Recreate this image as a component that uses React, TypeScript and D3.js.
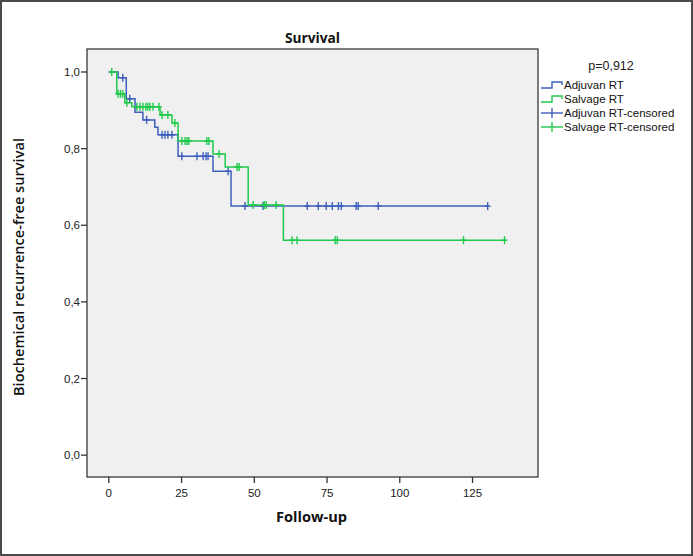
import React from "react";
import * as d3 from "d3";

// Step points: [time, survival]
const adjuvanTimes = [0, 3.2, 6, 9, 11.7, 15.8, 16.9, 23.8, 35.8, 42];
const adjuvanSurv = [1.0, 0.985, 0.93, 0.895, 0.875, 0.856, 0.836, 0.78, 0.741, 0.65];
const adjuvanEnd = 130.2;
const adjuvanCensored = [4.8, 7.2, 13, 18.3, 19.3, 20.3, 21.7, 25.1, 30.3, 32.4, 33.4, 34.1, 41, 46.8, 53, 68.2, 72, 74.7, 76.8, 78.9, 79.9, 85, 85.7, 92.6, 130.2];

const salvageTimes = [0, 2.75, 5.5, 7.9, 17.6, 21.7, 23.8, 35.8, 40, 47.9, 60];
const salvageSurv = [1.0, 0.943, 0.92, 0.909, 0.888, 0.867, 0.82, 0.786, 0.752, 0.653, 0.561];
const salvageEnd = 136;
const salvageCensored = [1, 3.2, 4, 4.8, 6.2, 9.6, 10.7, 11.7, 12.7, 13.4, 14.1, 15.2, 17.2, 18.3, 20.3, 22.7, 25.1, 26.2, 26.9, 27.5, 33.7, 34.4, 37.9, 44.1, 44.8, 49.6, 53.4, 54.1, 57.5, 63, 64.7, 77.8, 78.5, 121.9, 136];

const xTicks = [0, 25, 50, 75, 100, 125];
const yTicks = [0, 0.2, 0.4, 0.6, 0.8, 1.0];
const legendLabels = ["Adjuvan RT", "Salvage RT", "Adjuvan RT-censored", "Salvage RT-censored"];
const pValueText = "p=0,912";

const BLUE = "#3d5fbd";
const GREEN = "#1fc94b";

function survAt(times: number[], surv: number[], t: number) {
  let s = surv[0];
  for (let i = 0; i < times.length; i++) if (times[i] <= t) s = surv[i];
  return s;
}

export default function App() {
  const W = 693, H = 556;
  const L = 87, R = 538, T = 49, B = 477;
  const x = d3.scaleLinear().domain([-7.5, 147.5]).range([L, R]);
  const y = d3.scaleLinear().domain([-0.057, 1.06]).range([B, T]);
  const line = d3.line<[number, number]>().x(d => x(d[0])).y(d => y(d[1])).curve(d3.curveStepAfter);

  const series = [
    { times: adjuvanTimes, surv: adjuvanSurv, end: adjuvanEnd, cens: adjuvanCensored, color: BLUE },
    { times: salvageTimes, surv: salvageSurv, end: salvageEnd, cens: salvageCensored, color: GREEN },
  ];

  const fmt = (v: number) => v.toFixed(1).replace(".", ",");
  const legX = 541;
  const legY = [85, 99, 113, 127];

  return (
    <svg width={W} height={H} style={{ position: "absolute", left: 0, top: 0 }}>
      <rect x={0} y={0} width={W} height={H} fill="#fff" />
      <rect x={1} y={1} width={W - 2} height={H - 2} fill="none" stroke="#4a4a4a" strokeWidth={2} />
      <rect x={L} y={T} width={R - L} height={B - T} fill="#f0f0f0" stroke="#3a3a3a" strokeWidth={1.3} />
      <text x={(L + R) / 2} y={43} textAnchor="middle" fontFamily="Open Sans" fontWeight={700} fontSize={13.5} fill="#111" textLength={55} lengthAdjust="spacingAndGlyphs">Survival</text>
      {yTicks.map(v => (
        <g key={v}>
          <line x1={L - 6} x2={L} y1={y(v)} y2={y(v)} stroke="#333" strokeWidth={1.3} />
          <text x={L - 7} y={y(v) + 4} textAnchor="end" fontFamily="Liberation Sans" fontSize={11.5} fill="#222">{fmt(v)}</text>
        </g>
      ))}
      {xTicks.map(v => (
        <g key={v}>
          <line x1={x(v)} x2={x(v)} y1={B} y2={B + 6} stroke="#333" strokeWidth={1.3} />
          <text x={x(v)} y={497} textAnchor="middle" fontFamily="Liberation Sans" fontSize={11.5} fill="#222">{v}</text>
        </g>
      ))}
      <text x={(L + R) / 2 - 1} y={522} textAnchor="middle" fontFamily="Open Sans" fontWeight={700} fontSize={14} fill="#111" textLength={71} lengthAdjust="spacingAndGlyphs">Follow-up</text>
      <text transform={`translate(24,${(T + B) / 2 + 4}) rotate(-90)`} textAnchor="middle" fontFamily="Open Sans" fontWeight={600} fontSize={13.5} fill="#111" textLength={258} lengthAdjust="spacingAndGlyphs">Biochemical recurrence-free survival</text>
      {series.map((s, i) => {
        const pts: [number, number][] = s.times.map((t, j) => [t, s.surv[j]] as [number, number]);
        pts.push([s.end, s.surv[s.surv.length - 1]]);
        return (
          <g key={i}>
            <path d={line(pts) || ""} fill="none" stroke={s.color} strokeWidth={1.5} />
            {s.cens.map((c, k) => {
              const cx = x(c), cy = y(survAt(s.times, s.surv, c));
              return (
                <g key={k} stroke={s.color} strokeWidth={1.4}>
                  <line x1={cx} x2={cx} y1={cy - 4} y2={cy + 4} />
                  <line x1={cx - 3} x2={cx + 3} y1={cy} y2={cy} />
                </g>
              );
            })}
          </g>
        );
      })}
      <text x={611} y={70} textAnchor="middle" fontFamily="Liberation Sans" fontSize={12.5} fill="#222">{pValueText}</text>
      {legendLabels.map((lab, i) => {
        const cy = legY[i];
        const color = i % 2 === 0 ? BLUE : GREEN;
        return (
          <g key={lab}>
            {i < 2 ? (
              <path d={`M${legX},${cy + 3}H${legX + 11}V${cy - 3}H${legX + 21}V${cy}`} fill="none" stroke={color} strokeWidth={1.4} />
            ) : (
              <g stroke={color} strokeWidth={1.4}>
                <line x1={legX} x2={legX + 22} y1={cy} y2={cy} />
                <line x1={legX + 11} x2={legX + 11} y1={cy - 5} y2={cy + 5} />
              </g>
            )}
            <text x={564} y={cy + 4} fontFamily="Liberation Sans" fontSize={11.5} fill="#111">{lab}</text>
          </g>
        );
      })}
    </svg>
  );
}
